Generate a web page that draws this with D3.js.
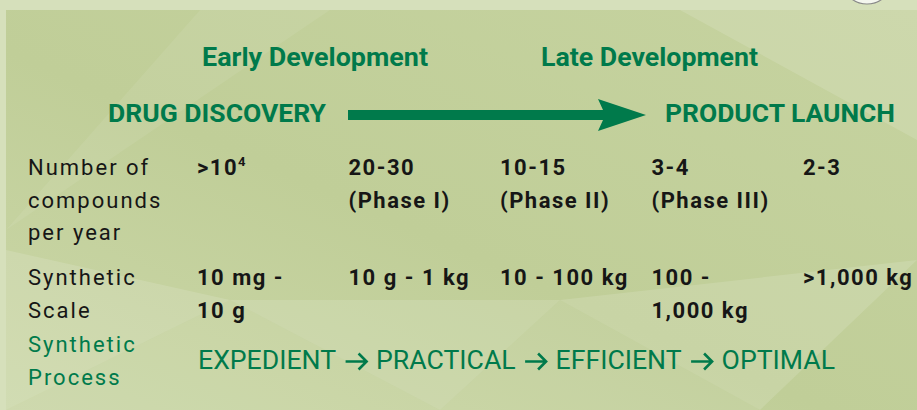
<!DOCTYPE html>
<html>
<head>
<meta charset="utf-8">
<script src="https://cdn.jsdelivr.net/npm/d3@7"></script>
<style>
  html, body { margin: 0; padding: 0; background: #d8e2bf; }
  svg { display: block; }
</style>
</head>
<body>
<div id="chart"></div>
<script>
// pipeline stages and the two end points of the arrow
const stages = ['Early Development', 'Late Development'];
const endpoints = ['DRUG DISCOVERY', 'PRODUCT LAUNCH'];

// row labels (one entry per printed line)
const rowLabels = [
  ['Number of', 'compounds', 'per year'],
  ['Synthetic', 'Scale'],
  ['Synthetic', 'Process']
];

// values per column, "^" marks a superscript
const compounds = [['>10^4'], ['20-30', '(Phase I)'], ['10-15', '(Phase II)'], ['3-4', '(Phase III)'], ['2-3']];
const scales = [['10 mg -', '10 g'], ['10 g - 1 kg'], ['10 - 100 kg'], ['100 -', '1,000 kg'], ['>1,000 kg']];
const processSteps = ['EXPEDIENT', 'PRACTICAL', 'EFFICIENT', 'OPTIMAL'];

const W = 917, H = 410;
const green = '#007a4b';
const ink = '#161616';

const svg = d3.select('#chart').append('svg')
  .attr('width', W)
  .attr('height', H);

// ---- background ----
const defs = svg.append('defs');
const grad = defs.append('linearGradient')
  .attr('id', 'bg')
  .attr('x1', 0).attr('y1', 1).attr('x2', 1).attr('y2', 0);
grad.append('stop').attr('offset', '0%').attr('stop-color', '#cbd7a8');
grad.append('stop').attr('offset', '45%').attr('stop-color', '#c0ce98');
grad.append('stop').attr('offset', '100%').attr('stop-color', '#c6d3a0');

svg.append('rect').attr('width', W).attr('height', H).attr('fill', '#d6e0bb');
svg.append('rect')
  .attr('x', 6).attr('y', 10)
  .attr('width', W - 6).attr('height', H - 10)
  .attr('fill', 'url(#bg)');

// faint facets in the backdrop
const facets = [
  [[6, 250], [230, 300], [6, 410]],
  [[230, 300], [440, 410], [6, 410]],
  [[230, 300], [560, 300], [440, 410]],
  [[560, 300], [760, 410], [440, 410]],
  [[560, 300], [917, 260], [760, 410]],
  [[200, 10], [330, 10], [6, 230]],
  [[680, 10], [917, 140], [917, 10]]
];
svg.append('g')
  .selectAll('polygon')
  .data(facets)
  .join('polygon')
  .attr('points', d => d.map(p => p.join(',')).join(' '))
  .attr('fill', '#ffffff')
  .attr('opacity', (d, i) => i % 2 ? 0.07 : 0.13);

svg.append('ellipse')
  .attr('cx', 867).attr('cy', -12)
  .attr('rx', 21).attr('ry', 16)
  .attr('fill', '#f4f6ee')
  .attr('stroke', '#8a8a8a')
  .attr('stroke-width', 1.2);

// ---- header ----
const head = svg.append('g')
  .style('font-family', 'Roboto, sans-serif')
  .style('font-weight', 700)
  .attr('fill', green);

head.selectAll('.stage')
  .data(stages)
  .join('text')
  .attr('class', 'stage')
  .attr('x', (d, i) => [202, 541][i])
  .attr('y', 66)
  .style('font-size', '26px')
  .attr('textLength', (d, i) => [226, 217][i])
  .attr('lengthAdjust', 'spacingAndGlyphs')
  .text(d => d);

head.selectAll('.endpoint')
  .data(endpoints)
  .join('text')
  .attr('class', 'endpoint')
  .attr('x', (d, i) => [108, 665][i])
  .attr('y', 122)
  .style('font-size', '26.5px')
  .attr('textLength', (d, i) => [218, 230][i])
  .attr('lengthAdjust', 'spacingAndGlyphs')
  .text(d => d);

// arrow
const arrowY = 115;
head.append('path')
  .attr('d', `M348,${arrowY - 5} L603,${arrowY - 5} L598,${arrowY - 16} L646,${arrowY} L598,${arrowY + 16} L603,${arrowY + 5} L348,${arrowY + 5} Z`)
  .attr('fill', green);

// ---- table ----
const x = d3.scalePoint()
  .domain(d3.range(compounds.length))
  .range([197, 803]);

const lineH = 32.5;
const labelX = 28;
const rowTop = [175, 285, 352];

const body = svg.append('g')
  .style('font-family', 'Roboto, sans-serif')
  .style('font-size', '22px');

// row labels
rowLabels.forEach((lines, r) => {
  body.append('text')
    .attr('x', labelX)
    .attr('y', rowTop[r])
    .attr('fill', r === 2 ? green : ink)
    .style('letter-spacing', '2px')
    .selectAll('tspan')
    .data(lines)
    .join('tspan')
    .attr('x', labelX)
    .attr('dy', (d, i) => i ? lineH : 0)
    .text(d => d);
});

function drawValues(data, top) {
  const cells = body.selectAll(null)
    .data(data)
    .join('text')
    .attr('x', (d, i) => x(i))
    .attr('y', top)
    .attr('fill', ink)
    .style('font-weight', 700)
    .style('letter-spacing', '1.5px');

  cells.each(function (lines, i) {
    const t = d3.select(this);
    lines.forEach((line, j) => {
      const parts = line.split('^');
      t.append('tspan')
        .attr('x', x(i))
        .attr('y', top + j * lineH)
        .text(parts[0]);
      if (parts[1]) {
        t.append('tspan')
          .attr('dy', -9)
          .style('font-size', '13px')
          .text(parts[1]);
      }
    });
  });
}

drawValues(compounds, rowTop[0]);
drawValues(scales, rowTop[1]);

// synthetic process line: words spread over the row, open arrows between
const procX0 = 198, procX1 = 835, procY = 369;
const arrowW = 21, arrowGap = 9.5;

const words = body.selectAll('.step')
  .data(processSteps)
  .join('text')
  .attr('class', 'step')
  .attr('y', procY)
  .attr('fill', green)
  .style('font-size', '25px')
  .text(d => d);

const natural = [];
words.each(function () { natural.push(this.getComputedTextLength()); });
const k = (procX1 - procX0 - (processSteps.length - 1) * (arrowW + 2 * arrowGap)) / d3.sum(natural);

let cursor = procX0;
const arrowStarts = [];
words.each(function (d, i) {
  const w = natural[i] * k;
  d3.select(this)
    .attr('x', cursor)
    .attr('textLength', w)
    .attr('lengthAdjust', 'spacingAndGlyphs');
  cursor += w;
  if (i < processSteps.length - 1) {
    arrowStarts.push(cursor + arrowGap);
    cursor += arrowW + 2 * arrowGap;
  }
});

const ay = procY - 7.5;
body.selectAll('.step-arrow')
  .data(arrowStarts)
  .join('path')
  .attr('class', 'step-arrow')
  .attr('d', a => `M${a},${ay} L${a + arrowW - 1},${ay} M${a + arrowW - 8},${ay - 8} L${a + arrowW},${ay} L${a + arrowW - 8},${ay + 8}`)
  .attr('fill', 'none')
  .attr('stroke', green)
  .attr('stroke-width', 2.6)
  .attr('stroke-linejoin', 'miter');
</script>
</body>
</html>
